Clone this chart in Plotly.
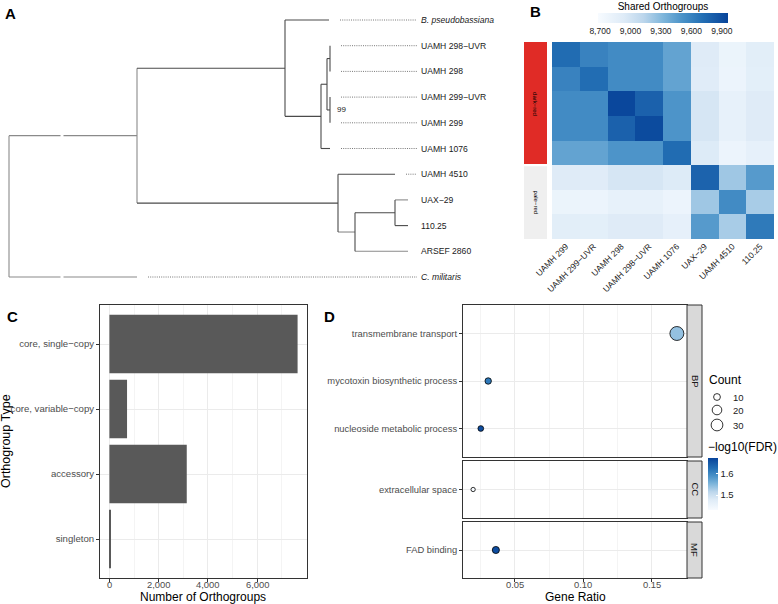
import plotly.graph_objects as go

W, H = 778, 604
def px(x): return x / W
def py(y): return 1 - y / H

FONT = "Liberation Sans, Arial, sans-serif"
GRID = "#EBEBEB"
GRID_MINOR = "#F4F4F4"
TXT = "#4D4D4D"

# ---------------- Panel A: tree ----------------
tip_labels = ["<i>B. pseudobassiana</i>", "UAMH 298−UVR", "UAMH 298", "UAMH 299−UVR", "UAMH 299",
              "UAMH 1076", "UAMH 4510", "UAX−29", "110.25", "ARSEF 2860", "<i>C. militaris</i>"]
tip_parent = ["N2", "N4a", "N4a", "N4b", "N4b", "N3", "N5", "N7", "N7", "N6", "root"]
tip_depth = [329, 330, 330, 330, 330, 330, 395, 408, 408, 408, 137]
tip_dotted = [True, True, True, True, True, True, True, False, False, False, True]
node_names = ["root", "N1", "N2", "N3", "N4", "N4a", "N4b", "N5", "N6", "N7"]
node_depth = [9, 137, 285, 321, 327, 330, 330, 338, 355, 395]
node_parent = [None, "root", "N1", "N2", "N3", "N4", "N4", "N1", "N5", "N6"]
light_edges = ["N1", "tip10", "N6", "tip9", "tip7"]
light_nodes = ["root", "N1"]
bootstrap_node, bootstrap_value = "N4b", "99"
label_x = 419
break_x = 62

depth = dict(zip(node_names, node_depth))
parent = dict(zip(node_names, node_parent))
children = {n: [] for n in node_names}
for n in node_names:
    if parent[n]:
        children[parent[n]].append(n)
for i, p in enumerate(tip_parent):
    children[p].append("tip%d" % i)
ypos = {"tip%d" % i: i for i in range(len(tip_labels))}
xpos = {"tip%d" % i: tip_depth[i] for i in range(len(tip_labels))}
xpos.update(depth)

def node_y(n):
    if n in ypos:
        return ypos[n]
    ys = [node_y(c) for c in children[n]]
    ypos[n] = (min(ys) + max(ys)) / 2
    return ypos[n]
node_y("root")

seg = {"dark": ([], []), "light": ([], [])}
def add(shade, x0, x1, y0, y1):
    seg[shade][0].extend([x0, x1, None]); seg[shade][1].extend([y0, y1, None])

for n in node_names:
    ys = [ypos[c] for c in children[n]]
    add("light" if n in light_nodes else "dark", depth[n], depth[n], min(ys), max(ys))
    for c in children[n]:
        sh = "light" if c in light_edges else "dark"
        if n == "root":
            add(sh, depth[n], break_x - 1.5, ypos[c], ypos[c])
            add(sh, break_x + 1.5, xpos[c], ypos[c], ypos[c])
        else:
            add(sh, depth[n], xpos[c], ypos[c], ypos[c])

dx, dy = [], []
for i in range(len(tip_labels)):
    if tip_dotted[i]:
        dx.extend([tip_depth[i] + 11, label_x - 2, None]); dy.extend([i, i, None])

fig = go.Figure()
fig.add_trace(go.Scatter(x=seg["light"][0], y=seg["light"][1], mode="lines",
                         line=dict(color="#8A8A8A", width=1.1), xaxis="x", yaxis="y", showlegend=False, hoverinfo="skip"))
fig.add_trace(go.Scatter(x=seg["dark"][0], y=seg["dark"][1], mode="lines",
                         line=dict(color="#4A4A4A", width=1.1), xaxis="x", yaxis="y", showlegend=False, hoverinfo="skip"))
fig.add_trace(go.Scatter(x=dx, y=dy, mode="lines", line=dict(color="#555555", width=0.8, dash="1px,1.2px"),
                         xaxis="x", yaxis="y", showlegend=False, hoverinfo="skip"))

annotations = []
def note(x, y, text, size, color="#000", xanchor="center", textangle=0, xref="paper", yref="paper"):
    annotations.append(dict(x=x, y=y, xref=xref, yref=yref, text=text, showarrow=False, xanchor=xanchor,
                            yanchor="middle", textangle=textangle, font=dict(size=size, color=color)))

for i, lab in enumerate(tip_labels):
    note(label_x, i, lab, 8.6, "#1A1A1A", "left", xref="x", yref="y")
note(depth[bootstrap_node] + 5, ypos[bootstrap_node], bootstrap_value, 8, "#1A1A1A", "left", xref="x", yref="y")

# ---------------- Panel B: heatmap ----------------
strains = ["UAMH 299", "UAMH 299−UVR", "UAMH 298", "UAMH 298−UVR", "UAMH 1076", "UAX−29", "UAMH 4510", "110.25"]
shared = [
    [9730, 9600, 9550, 9550, 9420, 8930, 8800, 8890],
    [9600, 9720, 9550, 9550, 9420, 8920, 8790, 8880],
    [9550, 9550, 9940, 9790, 9500, 8980, 8840, 8930],
    [9550, 9550, 9790, 9920, 9500, 8980, 8840, 8930],
    [9420, 9420, 9500, 9500, 9730, 8940, 8790, 8850],
    [8930, 8920, 8980, 8980, 8940, 9780, 9220, 9470],
    [8800, 8790, 8840, 8840, 8790, 9220, 9550, 9190],
    [8890, 8880, 8930, 8930, 8850, 9470, 9190, 9650],
]
groups = ["dark−red"] * 5 + ["pale−red"] * 3
group_colors = {"dark−red": "#E02B26", "pale−red": "#EFEFEF"}
heat_ticks = [8700, 9000, 9300, 9600, 9900]
blues = [[0, "#F7FBFF"], [0.2, "#DEEBF7"], [0.35, "#BCD6EC"], [0.5, "#7FB6DB"],
         [0.65, "#4A92C8"], [0.8, "#2470B5"], [1, "#08449A"]]

fig.add_trace(go.Heatmap(z=shared, x=list(range(8)), y=list(range(8)), coloraxis="coloraxis",
                         xaxis="x2", yaxis="y2", hoverinfo="skip"))

shapes = []
start = 0
for gi, g in enumerate(dict.fromkeys(groups)):
    n = groups.count(g)
    shapes.append(dict(type="rect", xref="paper", yref="y2", x0=px(524), x1=px(547),
                       y0=start - 0.5 + (0.05 if start > 0 else 0),
                       y1=start + n - 0.5 - (0.05 if start + n < len(groups) else 0),
                       fillcolor=group_colors[g], line=dict(width=0), layer="above"))
    note(px(535.5), start + (n - 1) / 2, g, 6, "#000", textangle=90, yref="y2")
    start += n

# ---------------- Panel C: bars ----------------
og_types = ["core, single−copy", "core, variable−copy", "accessory", "singleton"]
og_counts = [7640, 716, 3140, 40]
og_ticks = [0, 2000, 4000, 6000]
fig.add_trace(go.Bar(x=og_counts, y=list(range(4)), orientation="h", width=0.9,
                     marker=dict(color="#595959", line=dict(width=0)), xaxis="x3", yaxis="y3",
                     showlegend=False, hoverinfo="skip"))

# ---------------- Panel D: GO dot plot ----------------
go_terms = ["transmembrane transport", "mycotoxin biosynthetic process", "nucleoside metabolic process",
            "extracellular space", "FAD binding"]
go_ont = ["BP", "BP", "BP", "CC", "MF"]
gene_ratio = [0.1683, 0.0305, 0.0251, 0.0195, 0.0361]
go_count = [42, 9, 7, 4, 11]
neglog_fdr = [1.54, 1.615, 1.665, 1.43, 1.665]
ontologies = ["BP", "CC", "MF"]
ratio_ticks = [0.05, 0.10, 0.15]
size_legend = [10, 20, 30]
fdr_ticks = [1.5, 1.6]
def diam(c): return 2.15 * c ** 0.5

ont_axes = {"BP": ("x4", "y4"), "CC": ("x5", "y5"), "MF": ("x6", "y6")}
for o in ontologies:
    idx = [i for i in range(len(go_terms)) if go_ont[i] == o]
    fig.add_trace(go.Scatter(x=[gene_ratio[i] for i in idx], y=list(range(len(idx))), mode="markers",
                             marker=dict(size=[diam(go_count[i]) for i in idx],
                                         color=[neglog_fdr[i] for i in idx], coloraxis="coloraxis2",
                                         opacity=1, line=dict(color="#000", width=0.8)),
                             xaxis=ont_axes[o][0], yaxis=ont_axes[o][1], showlegend=False, hoverinfo="skip"))

# ---------------- Layout ----------------
layout = dict(width=W, height=H, margin=dict(l=0, r=0, t=0, b=0, autoexpand=False), paper_bgcolor="white",
              plot_bgcolor="white", font=dict(family=FONT, color="#000"), showlegend=False)

# tree axes
tip_px0, tip_step = 20, 25.7
layout["xaxis"] = dict(domain=[0, px(430)], range=[0, 430], visible=False, fixedrange=True)
layout["yaxis"] = dict(domain=[py(300), 1], range=[(300 - tip_px0) / tip_step, -tip_px0 / tip_step],
                       visible=False)

# heatmap axes
layout["xaxis2"] = dict(domain=[px(552), px(774)], range=[-0.5, 7.5], anchor="y2", tickmode="array",
                        tickvals=list(range(8)), ticktext=strains, tickangle=-45, showgrid=False,
                        zeroline=False, ticks="", tickfont=dict(size=8.5, color="#222"), showline=False,
                        automargin=False)
layout["yaxis2"] = dict(domain=[py(239), py(42)], range=[7.5, -0.5], anchor="x2", visible=False)
layout["coloraxis"] = dict(colorscale=blues, cmin=8680, cmax=9960,
                           colorbar=dict(orientation="h", x=px(663), xanchor="center", y=py(2), yanchor="top",
                                         len=130 / W, lenmode="fraction", thickness=10, xpad=0, ypad=0,
                                         outlinewidth=0, tickvals=heat_ticks, tickformat=",", ticks="",
                                         tickfont=dict(size=8.5, color="#222"),
                                         title=dict(text="Shared Orthogroups", side="top",
                                                    font=dict(size=10, color="#000"))))

# bar axes
axis_common = dict(showline=True, linecolor="#333333", linewidth=1, mirror=True, zeroline=False,
                   gridcolor=GRID, gridwidth=1, ticks="outside", ticklen=3, tickcolor="#333333",
                   tickfont=dict(size=9.6, color=TXT), automargin=False)
layout["xaxis3"] = dict(axis_common, domain=[px(100), px(307)], range=[-382, 8022], anchor="y3",
                        tickvals=og_ticks, showticklabels=False,
                        minor=dict(tickvals=[1000, 3000, 5000, 7000], showgrid=True, gridcolor=GRID_MINOR,
                                   ticks=""))
layout["yaxis3"] = dict(axis_common, domain=[py(578), py(305)], range=[3.6, -0.6], anchor="x3",
                        tickvals=list(range(4)), ticktext=og_types)
for t in og_ticks:
    note(t, py(584.5), "{:,}".format(t), 9.4, TXT, xref="x3")
note(px(203), py(596.5), "Number of Orthogroups", 12)
note(px(6), py(441), "Orthogroup Type", 12.5, textangle=-90)

# GO axes
ont_px = {"BP": (305, 457), "CC": (461, 518), "MF": (522, 578)}
xr = [0.0121, 0.1757]
for o in ontologies:
    xa, ya = ont_axes[o]
    idx = [i for i in range(len(go_terms)) if go_ont[i] == o]
    n = len(idx)
    top, bot = ont_px[o]
    xd = dict(axis_common, domain=[px(463), px(687)], range=xr, anchor=ya, tickvals=ratio_ticks,
              showticklabels=False,
              minor=dict(tickvals=[0.025, 0.075, 0.125, 0.175], showgrid=True, gridcolor=GRID_MINOR, ticks=""))
    if o != "MF":
        xd.update(ticks="")
    layout["xaxis" + xa[1:]] = xd
    layout["yaxis" + ya[1:]] = dict(axis_common, domain=[py(bot), py(top)], range=[n - 1 + 0.6, -0.6],
                                    anchor=xa, tickvals=list(range(n)), ticktext=[go_terms[i] for i in idx],
                                    tickfont=dict(size=9.4, color=TXT))
    shapes.append(dict(type="rect", xref="paper", yref="paper", x0=px(687), x1=px(702), y0=py(bot), y1=py(top),
                       fillcolor="#D9D9D9", line=dict(color="#333333", width=1)))
    note(px(695), py((top + bot) / 2), o, 9.5, "#1A1A1A", textangle=90)
for t in ratio_ticks:
    note(t, py(584.5), "%.2f" % t, 9.4, TXT, xref="x6")
note(px(575), py(596.5), "Gene Ratio", 12)

layout["coloraxis2"] = dict(colorscale=blues, cmin=1.43, cmax=1.675,
                            colorbar=dict(x=px(708), xanchor="left", y=py(458), yanchor="top", len=52 / H,
                                          lenmode="fraction", thickness=10, xpad=0, ypad=0, outlinewidth=0,
                                          tickvals=fdr_ticks, ticks="inside", tickcolor="white", ticklen=2,
                                          tickfont=dict(size=9.5, color="#222")))

# size legend
note(px(707), py(380), "Count", 12, "#000", "left")
for k, c in enumerate(size_legend):
    yy = [397, 410, 425][k]
    d = diam(c)
    shapes.append(dict(type="circle", xref="paper", yref="paper", xsizemode="pixel", ysizemode="pixel",
                       xanchor=px(717), yanchor=py(yy), x0=-d / 2, x1=d / 2, y0=-d / 2, y1=d / 2,
                       fillcolor="white", line=dict(color="#000", width=0.8)))
    note(px(731), py(yy), str(c), 9.5, "#222", "left")
note(px(706), py(447), "−log10(FDR)", 12, "#000", "left")

# panel letters
for lab, (x, y) in {"A": (3, 13), "B": (528, 12), "C": (5, 316), "D": (322, 316)}.items():
    note(px(x), py(y), "<b>%s</b>" % lab, 15, "#000", "left")

layout["annotations"] = annotations
layout["shapes"] = shapes
fig.update_layout(**layout)
fig.write_html("out.html", config={"displayModeBar": False},
               post_script="document.body.style.margin='0';document.body.style.padding='0';"
                           "document.body.style.overflow='hidden';")
